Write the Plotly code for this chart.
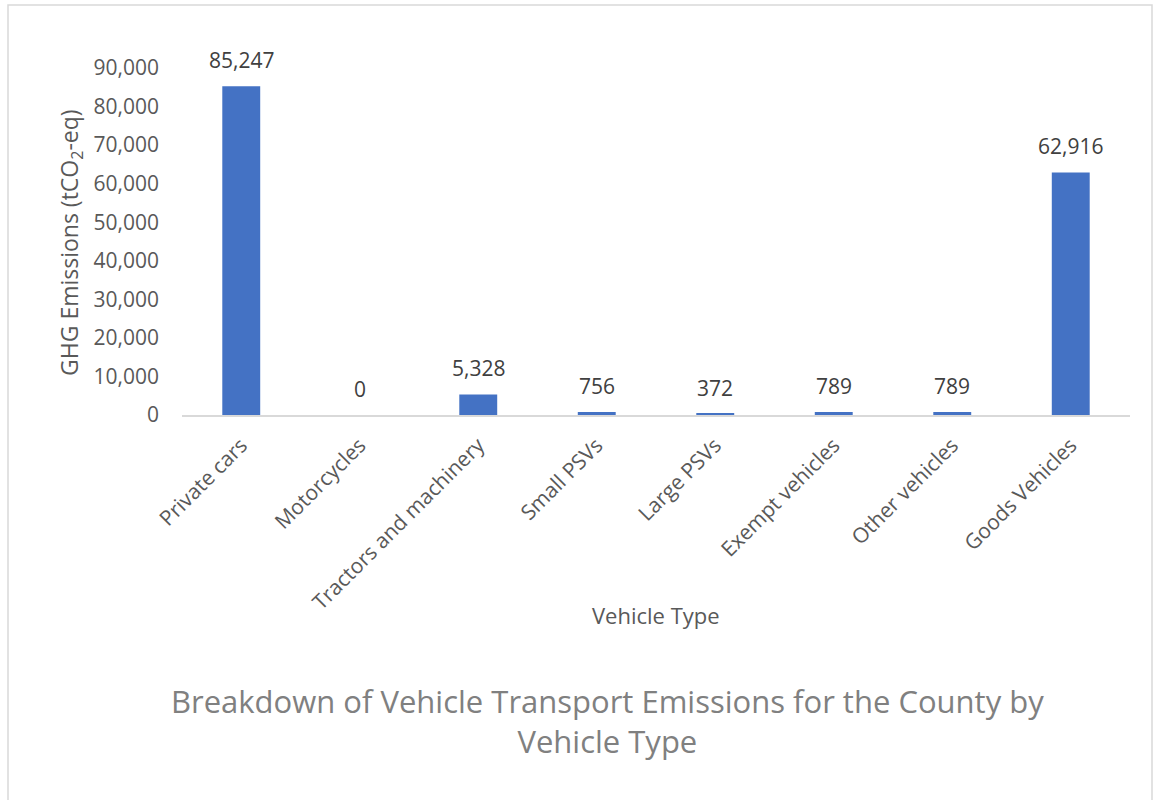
import plotly.graph_objects as go

categories = ["Private cars", "Motorcycles", "Tractors and machinery", "Small PSVs",
              "Large PSVs", "Exempt vehicles", "Other vehicles", "Goods Vehicles"]
emissions = [85247, 0, 5328, 756, 372, 789, 789, 62916]
y_ticks = [0, 10000, 20000, 30000, 40000, 50000, 60000, 70000, 80000, 90000]
y_tick_labels = ["0", "10,000", "20,000", "30,000", "40,000", "50,000",
                 "60,000", "70,000", "80,000", "90,000"]

W, H = 1155, 800
L, R, T, B = 182, 25, 68, 385
PW, PH = W - L - R, H - T - B

fig = go.Figure(go.Bar(
    x=categories, y=emissions,
    marker=dict(color="#4472C4", line=dict(width=0)),
    width=0.32,
    hoverinfo="x+y",
))

label_annotations = [
    dict(x=c, y=v, xref="x", yref="y", text=f"{v:,}", showarrow=False,
         xanchor="center", yanchor="bottom", yshift=10,
         font=dict(family="Open Sans", size=21, color="#404040"))
    for c, v in zip(categories, emissions)
]

fig.update_layout(
    width=W, height=H,
    margin=dict(l=L, r=R, t=T, b=B, autoexpand=False),
    paper_bgcolor="white", plot_bgcolor="white",
    showlegend=False,
    font=dict(family="Open Sans", color="#595959"),
    xaxis=dict(
        tickangle=-45,
        tickfont=dict(family="Open Sans", size=21, color="#595959"),
        showline=True, linecolor="#d9d9d9", linewidth=1.5,
        showgrid=False, ticks="", ticklabelstandoff=8,
        automargin=False,
    ),
    yaxis=dict(
        range=[0, 90000],
        tickvals=y_ticks, ticktext=y_tick_labels,
        tickfont=dict(family="Open Sans", size=21, color="#595959"),
        showgrid=False, zeroline=False, showline=False,
        ticks="", ticklabelstandoff=22,
        automargin=False,
    ),
    shapes=[dict(type="rect", xref="paper", yref="paper",
                 x0=-(L - 8) / PW, x1=1 + (R - 3) / PW,
                 y0=-(B + 10) / PH, y1=1 + (T - 5) / PH,
                 line=dict(color="#d9d9d9", width=1.5), fillcolor="rgba(0,0,0,0)", layer="below")],
    annotations=label_annotations + [
        dict(text="Breakdown of Vehicle Transport Emissions for the County by<br>Vehicle Type",
             xref="paper", yref="paper",
             x=(607 - L) / PW, y=-(721 - 415) / PH,
             xanchor="center", yanchor="middle", showarrow=False,
             font=dict(family="Open Sans", size=31, color="#808080")),
        dict(text="Vehicle Type", xref="paper", yref="paper",
             x=(656 - L) / PW, y=-(615 - 415) / PH,
             xanchor="center", yanchor="middle", showarrow=False,
             font=dict(family="Open Sans", size=22, color="#595959")),
        dict(text="GHG Emissions (tCO<sub>2</sub>-eq)", xref="paper", yref="paper",
             x=-(L - 70) / PW, y=(415 - 243) / PH, textangle=-90,
             xanchor="center", yanchor="middle", showarrow=False,
             font=dict(family="Open Sans", size=23, color="#595959")),
    ],
)

fig.write_html("out.html")
